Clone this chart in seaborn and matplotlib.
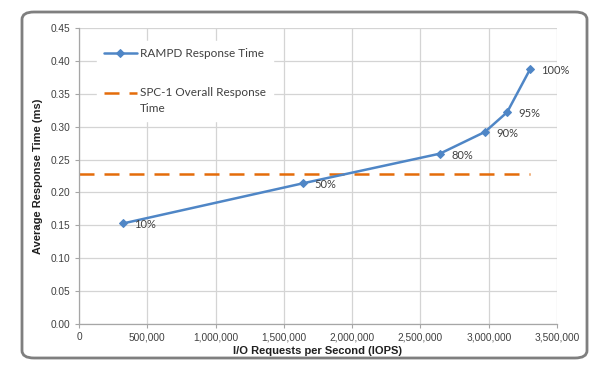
import matplotlib
matplotlib.use("Agg")
import matplotlib.pyplot as plt
from matplotlib.patches import FancyBboxPatch
from matplotlib.ticker import FuncFormatter
import seaborn as sns
import pandas as pd

# data
load_labels = ['10%', '50%', '80%', '90%', '95%', '100%']
iops = [325000, 1642000, 2643000, 2972000, 3135000, 3302000]
resp_time = [0.153, 0.214, 0.259, 0.292, 0.322, 0.387]
overall_resp = 0.228

blue = '#4f86c6'
orange = '#e46c0a'

sns.set_style('white')
plt.rcParams['font.family'] = ['Liberation Sans', 'DejaVu Sans']

df = pd.DataFrame({'iops': iops, 'rt': resp_time, 'load': load_labels})

fig = plt.figure(figsize=(6, 3.72), dpi=100)
ax = fig.add_axes([79 / 600, 1 - 324 / 372, 478 / 600, 296 / 372])

# rounded frame around the chart
frame = FancyBboxPatch((22 / 600, 1 - 358 / 372), 565 / 600, 346 / 372,
                       boxstyle='round,pad=0,rounding_size=0.02',
                       transform=fig.transFigure, facecolor='none',
                       edgecolor='#7f7f7f', linewidth=2, zorder=0)
fig.patches.append(frame)

sns.lineplot(data=df, x='iops', y='rt', ax=ax, color=blue, marker='D',
             markersize=4, markeredgecolor=blue, linewidth=1.8,
             label='RAMPD Response Time', zorder=3)
ax.hlines(overall_resp, 0, max(iops), colors=orange, linestyles=(0, (6, 4)),
          linewidth=1.8, label='SPC-1 Overall Response\nTime', zorder=2)

for x, y, t in zip(iops, resp_time, load_labels):
    ax.annotate(t, (x, y), xytext=(8, -1), textcoords='offset points',
                ha='left', va='center', fontsize=8, color='#404040',
                family=['Lato', 'DejaVu Sans'])

ax.set_xlim(0, 3500000)
ax.set_ylim(0, 0.45)
ax.set_xticks(range(0, 3500001, 500000))
ax.set_yticks([i * 0.05 for i in range(10)])
ax.xaxis.set_major_formatter(FuncFormatter(lambda v, p: f'{int(v):,}'))
ax.yaxis.set_major_formatter(FuncFormatter(lambda v, p: f'{v:.2f}'))
ax.grid(True, color='#d4d4d4', linewidth=0.9)
ax.set_axisbelow(True)
for s in ['top', 'right']:
    ax.spines[s].set_visible(False)
for s in ['left', 'bottom']:
    ax.spines[s].set_color('#a6a6a6')
    ax.spines[s].set_linewidth(0.9)
ax.tick_params(axis='both', labelsize=7.3, colors='#404040', length=3,
               width=0.8, direction='out', color='#a6a6a6', pad=3)
ax.tick_params(left=True, bottom=True)

ax.set_xlabel('I/O Requests per Second (IOPS)', fontsize=8, fontweight='bold',
              color='#202020', labelpad=3)
ax.set_ylabel('Average Response Time (ms)', fontsize=8, fontweight='bold',
              color='#202020', labelpad=6)

leg = ax.legend(loc='upper left', bbox_to_anchor=(0.025, 0.975), frameon=True,
                facecolor='white', edgecolor='white', framealpha=1,
                handlelength=2.8, handletextpad=0.25,
                labelspacing=2.3, borderpad=0.6,
                prop={'family': ['Lato', 'DejaVu Sans'], 'size': 8.5})
for t in leg.get_texts():
    t.set_color('#404040')
    t.set_linespacing(1.6)
# Excel puts the dashed handle next to the first line of the wrapped label
h = leg.legend_handles[1]
h.set_ydata([v + 5.4 for v in h.get_ydata()])

fig.savefig('out.png', dpi=100)
